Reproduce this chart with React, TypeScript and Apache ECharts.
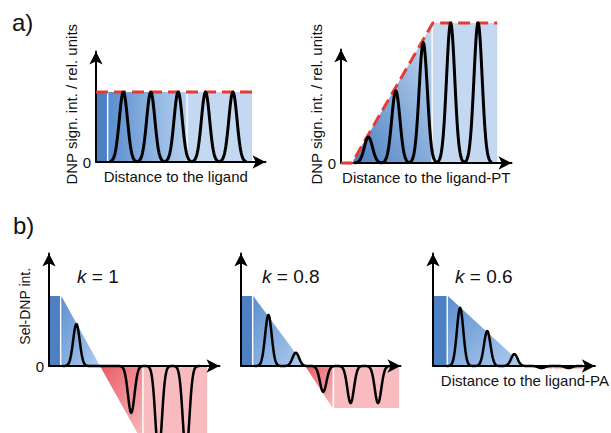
import React, { useEffect, useRef } from "react";
import * as echarts from "echarts";

const FONT = "'Liberation Sans', Arial, Helvetica, sans-serif";

// peak positions (in units of peak spacing) and peak heights (relative units)
const PEAK_X = [1, 2, 3, 4, 5];
const A1_PEAKS = [1.0, 1.0, 1.0, 1.0, 1.0];
const A2_PEAKS = [0.37, 1.03, 1.72, 2.0, 2.0];
const B1_PEAKS = [0.6, 0.0, -0.67, -1.25, -1.25];
const B2_PEAKS = [0.73, 0.19, -0.37, -0.53, -0.53];
const B3_PEAKS = [0.83, 0.5, 0.17, -0.03, -0.03];

// envelopes / shaded regions
const A1_DARK = [[0, 1], [0.4, 1]];
const A1_GRAD = [[0.45, 1], [3.3, 1]];
const A1_LIGHT = [[3.35, 1], [5.7, 1]];
const A1_DASH = [[0, 1], [5.7, 1]];

const A2_GRAD = [[0.4, 0], [3.3, 1.97]];
const A2_LIGHT = [[3.35, 2], [5.7, 2]];
const A2_DASH = [[0, 0], [0.4, 0], [3.35, 2], [5.7, 2]];

const B1_DARK = [[0, 1], [0.4, 1]];
const B1_BLUE = [[0.45, 1], [1.86, 0]];
const B1_RED = [[1.86, 0], [3.4, -1.08]];
const B1_PINK = [[3.45, -1.08], [5.77, -1.08]];

const B2_DARK = [[0, 1], [0.4, 1]];
const B2_BLUE = [[0.45, 1], [2.34, 0]];
const B2_RED = [[2.34, 0], [3.34, -0.6]];
const B2_PINK = [[3.4, -0.6], [5.77, -0.6]];

const B3_DARK = [[0, 1], [0.5, 1]];
const B3_BLUE = [[0.55, 1], [3.36, 0]];
const B3_RED = [[3.36, 0], [4.4, -0.04]];
const B3_PINK = [[4.45, -0.04], [5.8, -0.04]];

const X_MAX = [6.19, 6.22, 6.22, 5.82, 5.97];
const Y_MAX = [1.579, 1.621, 1.607, 1.607, 1.607];

const GRIDS = [
  { left: 96, top: 51.5, width: 169.5, height: 110.5 },
  { left: 341, top: 49.5, width: 170.5, height: 113.5 },
  { left: 49, top: 253.5, width: 170.5, height: 112.5 },
  { left: 241, top: 253.5, width: 159.5, height: 112.5 },
  { left: 433, top: 253.5, width: 163.5, height: 112.5 },
];

const X_NAMES = ["Distance to the ligand", "Distance to the ligand-PT", "", "", "Distance to the ligand-PA"];
const Y_NAMES = ["DNP sign. int. / rel. units", "DNP sign. int. / rel. units", "Sel-DNP int.", "", ""];
const ZERO_LABEL = [true, true, true, false, false];
const K_LABELS = ["", "", "1", "0.8", "0.6"];

const C_DARK = "#4d80c3";
const C_LIGHT = "#c4d9f1";
const C_PINK = "#f8bcc0";
const C_DASH = "#e63a35";

const hGrad = (a: string, b: string) =>
  new echarts.graphic.LinearGradient(0, 0, 1, 0, [
    { offset: 0, color: a },
    { offset: 1, color: b },
  ]);
const dGrad = (a: string, b: string) =>
  new echarts.graphic.LinearGradient(0, 1, 1, 0, [
    { offset: 0, color: a },
    { offset: 1, color: b },
  ]);
const ddGrad = (a: string, b: string) =>
  new echarts.graphic.LinearGradient(0, 0, 1, 1, [
    { offset: 0, color: a },
    { offset: 1, color: b },
  ]);

function areaSeries(gi: number, data: number[][], color: any) {
  return {
    type: "line",
    xAxisIndex: gi,
    yAxisIndex: gi,
    data,
    symbol: "none",
    silent: true,
    clip: false,
    z: 1,
    lineStyle: { width: 0, color: "rgba(0,0,0,0)" },
    areaStyle: { color, opacity: 1, origin: 0 },
  };
}

function dashSeries(gi: number, data: number[][]) {
  return {
    type: "line",
    xAxisIndex: gi,
    yAxisIndex: gi,
    data,
    symbol: "none",
    silent: true,
    clip: false,
    z: 4,
    lineStyle: { width: 3, color: C_DASH, type: [12, 6] },
  };
}

function peakSeries(gi: number, heights: number[], sigma: number, lw: number) {
  return {
    type: "custom",
    xAxisIndex: gi,
    yAxisIndex: gi,
    data: PEAK_X.map((x, i) => [x, heights[i]]),
    silent: true,
    clip: false,
    z: 5,
    renderItem: (params: any, api: any) => {
      const x0 = api.value(0);
      const h = api.value(1);
      const pts: number[][] = [];
      for (let k = -25; k <= 25; k++) {
        const dx = k * 0.02;
        pts.push(api.coord([x0 + dx, h * Math.exp(-(dx * dx) / (2 * sigma * sigma))]));
      }
      return {
        type: "polyline",
        shape: { points: pts },
        style: { stroke: "#000", lineWidth: lw, fill: null, lineJoin: "round" },
      };
    },
  };
}

export default function App() {
  const ref = useRef<HTMLDivElement>(null);
  useEffect(() => {
    document.body.style.margin = "0";
    const chart = echarts.init(ref.current!, null, { renderer: "svg" });
    const axisLine = {
      show: true,
      onZero: false,
      symbol: ["none", "arrow"],
      symbolSize: [10, 13],
      lineStyle: { color: "#000", width: 2 },
    };
    const xAxis = GRIDS.map((_, i) => ({
      type: "value",
      gridIndex: i,
      min: 0,
      max: X_MAX[i],
      z: 3,
      axisLine,
      axisTick: { show: false },
      axisLabel: { show: false },
      splitLine: { show: false },
      name: X_NAMES[i],
      nameLocation: "middle",
      nameGap: 7,
      nameTextStyle: {
        fontFamily: FONT,
        fontSize: 15,
        color: "#111",
        verticalAlign: "top",
        padding: i === 0 ? [0, 10, 0, 0] : i === 4 ? [0, 0, 0, 22] : 0,
      },
    }));
    const yAxis = GRIDS.map((_, i) => ({
      type: "value",
      gridIndex: i,
      min: 0,
      max: Y_MAX[i],
      interval: 1,
      z: 3,
      axisLine,
      axisTick: { show: false },
      axisLabel: {
        show: ZERO_LABEL[i],
        formatter: (v: number) => (v === 0 ? "0" : ""),
        fontFamily: FONT,
        fontSize: 15,
        color: "#111",
        margin: 5,
      },
      splitLine: { show: false },
      name: Y_NAMES[i],
      nameLocation: "middle",
      nameRotate: 90,
      nameGap: i === 0 ? 13 : i === 1 ? 17 : 11,
      nameTextStyle: {
        fontFamily: FONT,
        fontSize: i === 2 ? 14 : 15,
        color: "#111",
        padding: i === 0 ? [0, 0, 0, 5] : i === 1 ? [0, 0, 0, 4] : [0, 0, 0, 7],
      },
    }));

    const series: any[] = [
      areaSeries(0, A1_DARK, C_DARK),
      areaSeries(0, A1_GRAD, hGrad("#5a8ecf", "#b3cfee")),
      areaSeries(0, A1_LIGHT, C_LIGHT),
      dashSeries(0, A1_DASH),
      peakSeries(0, A1_PEAKS, 0.15, 3),

      areaSeries(1, A2_GRAD, dGrad("#4a7fc3", "#c3d9f1")),
      areaSeries(1, A2_LIGHT, C_LIGHT),
      dashSeries(1, A2_DASH),
      peakSeries(1, A2_PEAKS, 0.15, 3),

      areaSeries(2, B1_DARK, C_DARK),
      areaSeries(2, B1_BLUE, ddGrad("#5b8fd0", "#b0cdee")),
      areaSeries(2, B1_RED, ddGrad("#e95a64", "#f7bcc0")),
      areaSeries(2, B1_PINK, C_PINK),
      peakSeries(2, B1_PEAKS, 0.12, 2.5),

      areaSeries(3, B2_DARK, C_DARK),
      areaSeries(3, B2_BLUE, ddGrad("#5b8fd0", "#b0cdee")),
      areaSeries(3, B2_RED, ddGrad("#e95a64", "#f7bcc0")),
      areaSeries(3, B2_PINK, C_PINK),
      peakSeries(3, B2_PEAKS, 0.12, 2.5),

      areaSeries(4, B3_DARK, C_DARK),
      areaSeries(4, B3_BLUE, ddGrad("#5b8fd0", "#b0cdee")),
      areaSeries(4, B3_RED, ddGrad("#e95a64", "#f7bcc0")),
      areaSeries(4, B3_PINK, C_PINK),
      peakSeries(4, B3_PEAKS, 0.12, 2.5),
    ];

    const kPos = [0, 0, 77, 262, 455];
    const graphic: any[] = [
      { type: "text", left: 12, top: 10, style: { text: "a)", font: `24px ${FONT}`, fill: "#111" } },
      { type: "text", left: 13, top: 213, style: { text: "b)", font: `24px ${FONT}`, fill: "#111" } },
    ];
    K_LABELS.forEach((k, i) => {
      if (!k) return;
      graphic.push({
        type: "text",
        left: kPos[i],
        top: 267,
        style: {
          text: `{i|k} = ${k}`,
          font: `19px ${FONT}`,
          fill: "#111",
          rich: { i: { fontStyle: "italic", fontSize: 19, fontFamily: FONT, color: "#111" } },
        },
      });
    });

    chart.setOption({
      animation: false,
      backgroundColor: "#fff",
      grid: GRIDS.map((g) => ({ ...g, containLabel: false })),
      xAxis,
      yAxis,
      series,
      graphic,
    });
    return () => chart.dispose();
  }, []);
  return <div ref={ref} style={{ position: "fixed", left: 0, top: 0, width: 611, height: 433 }} />;
}
